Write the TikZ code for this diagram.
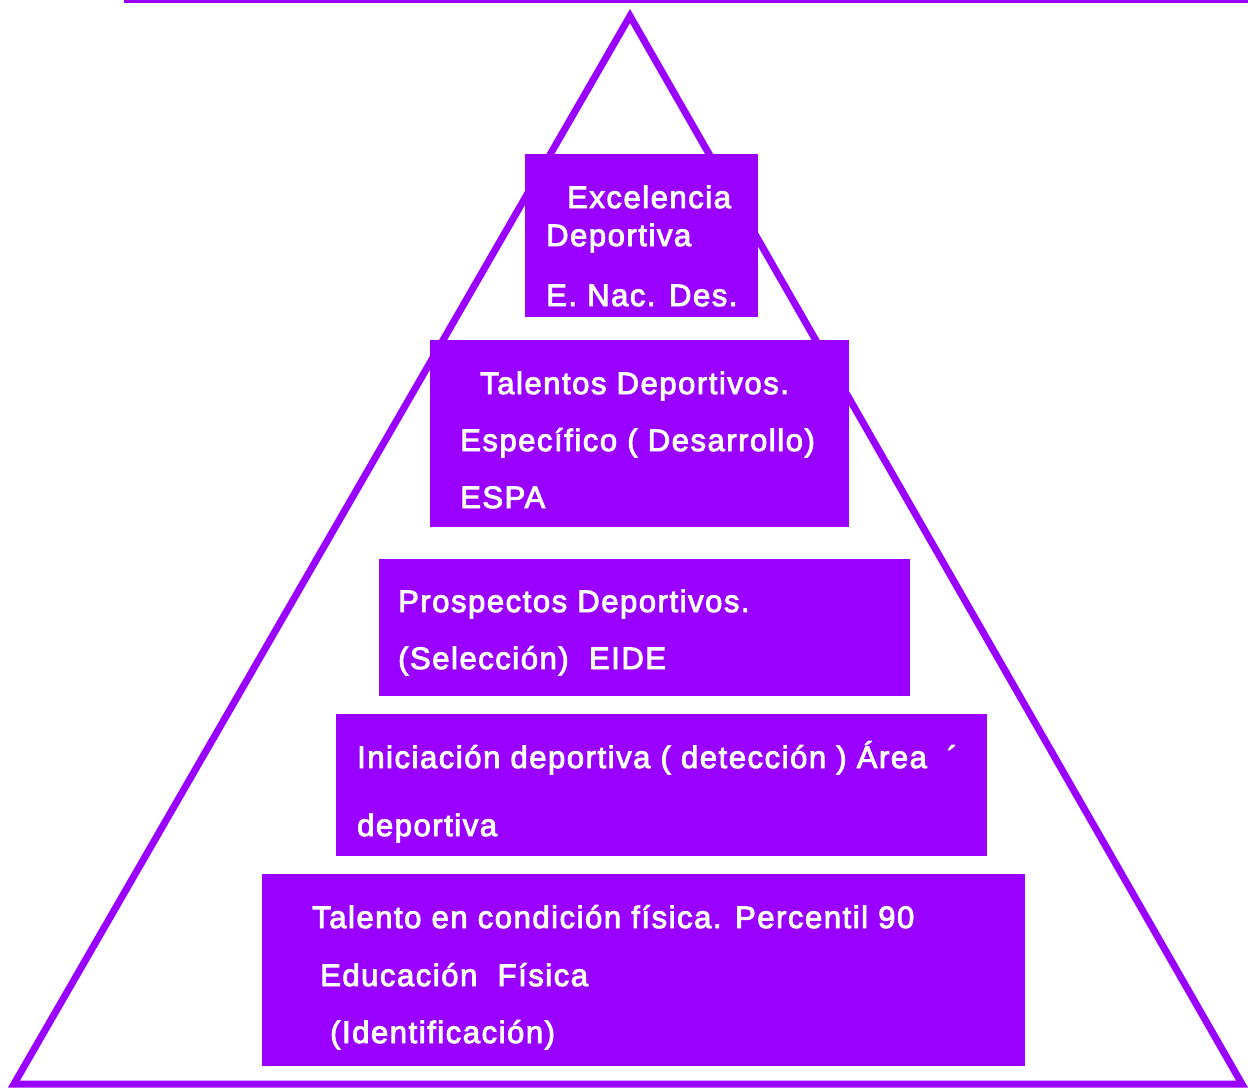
\documentclass[tikz,border=0pt]{standalone}
\usepackage{fontspec}
\setmainfont{Liberation Sans}[LetterSpace=5.0,FakeBold=3]
\definecolor{vio}{HTML}{9900FF}
\begin{document}
\begin{tikzpicture}[x=1pt,y=-1pt,
  box/.style={fill=vio,draw=none,inner sep=0,outer sep=0},
  lbl/.style={anchor=base west,inner sep=0,text=white,font=\fontsize{31}{31}\selectfont}]
\useasboundingbox (0,0) rectangle (1248,1088);
% top line
\coordinate (tl) at (124,1.5);
\coordinate (tr) at (1248,1.5);
\draw[vio,line width=3] (tl) -- (tr);
% triangle
\coordinate (apex) at (630,16);
\coordinate (bl) at (14,1084);
\coordinate (br) at (1242,1084);
\draw[vio,line width=7,line join=miter] (apex) -- (bl) -- (br) -- cycle;
% boxes
\node[box,minimum width=233,minimum height=163] (b1) at (641.5,235.5) {};
\node[box,minimum width=419,minimum height=187] (b2) at (639.5,433.5) {};
\node[box,minimum width=531,minimum height=137] (b3) at (644.5,627.5) {};
\node[box,minimum width=651,minimum height=142] (b4) at (661.5,785) {};
\node[box,minimum width=763,minimum height=192] (b5) at (643.5,970) {};
% texts
\node[lbl] (t11) at (567,208) {Excelencia};
\node[lbl] (t12) at (546,246) {Deportiva};
\node[lbl] (t13) at (546,306) {E. Nac. Des.};
\node[lbl] (t21) at (480,394) {Talentos Deportivos.};
\node[lbl] (t22) at (460,451) {Específico ( Desarrollo)};
\node[lbl] (t23) at (460,508) {ESPA};
\node[lbl] (t31) at (398,612) {Prospectos Deportivos.};
\node[lbl] (t32) at (398,669) {(Selección)\ \ EIDE};
\node[lbl] (t41) at (357,768) {Iniciación deportiva ( detección ) Área \ ´};
\node[lbl] (t42) at (357,836) {deportiva};
\node[lbl] (t51) at (312,928) {Talento en condición física. Percentil 90};
\node[lbl] (t52) at (320,986) {Educación \ Física};
\node[lbl] (t53) at (330,1043) {(Identificación)};
\end{tikzpicture}
\end{document}
